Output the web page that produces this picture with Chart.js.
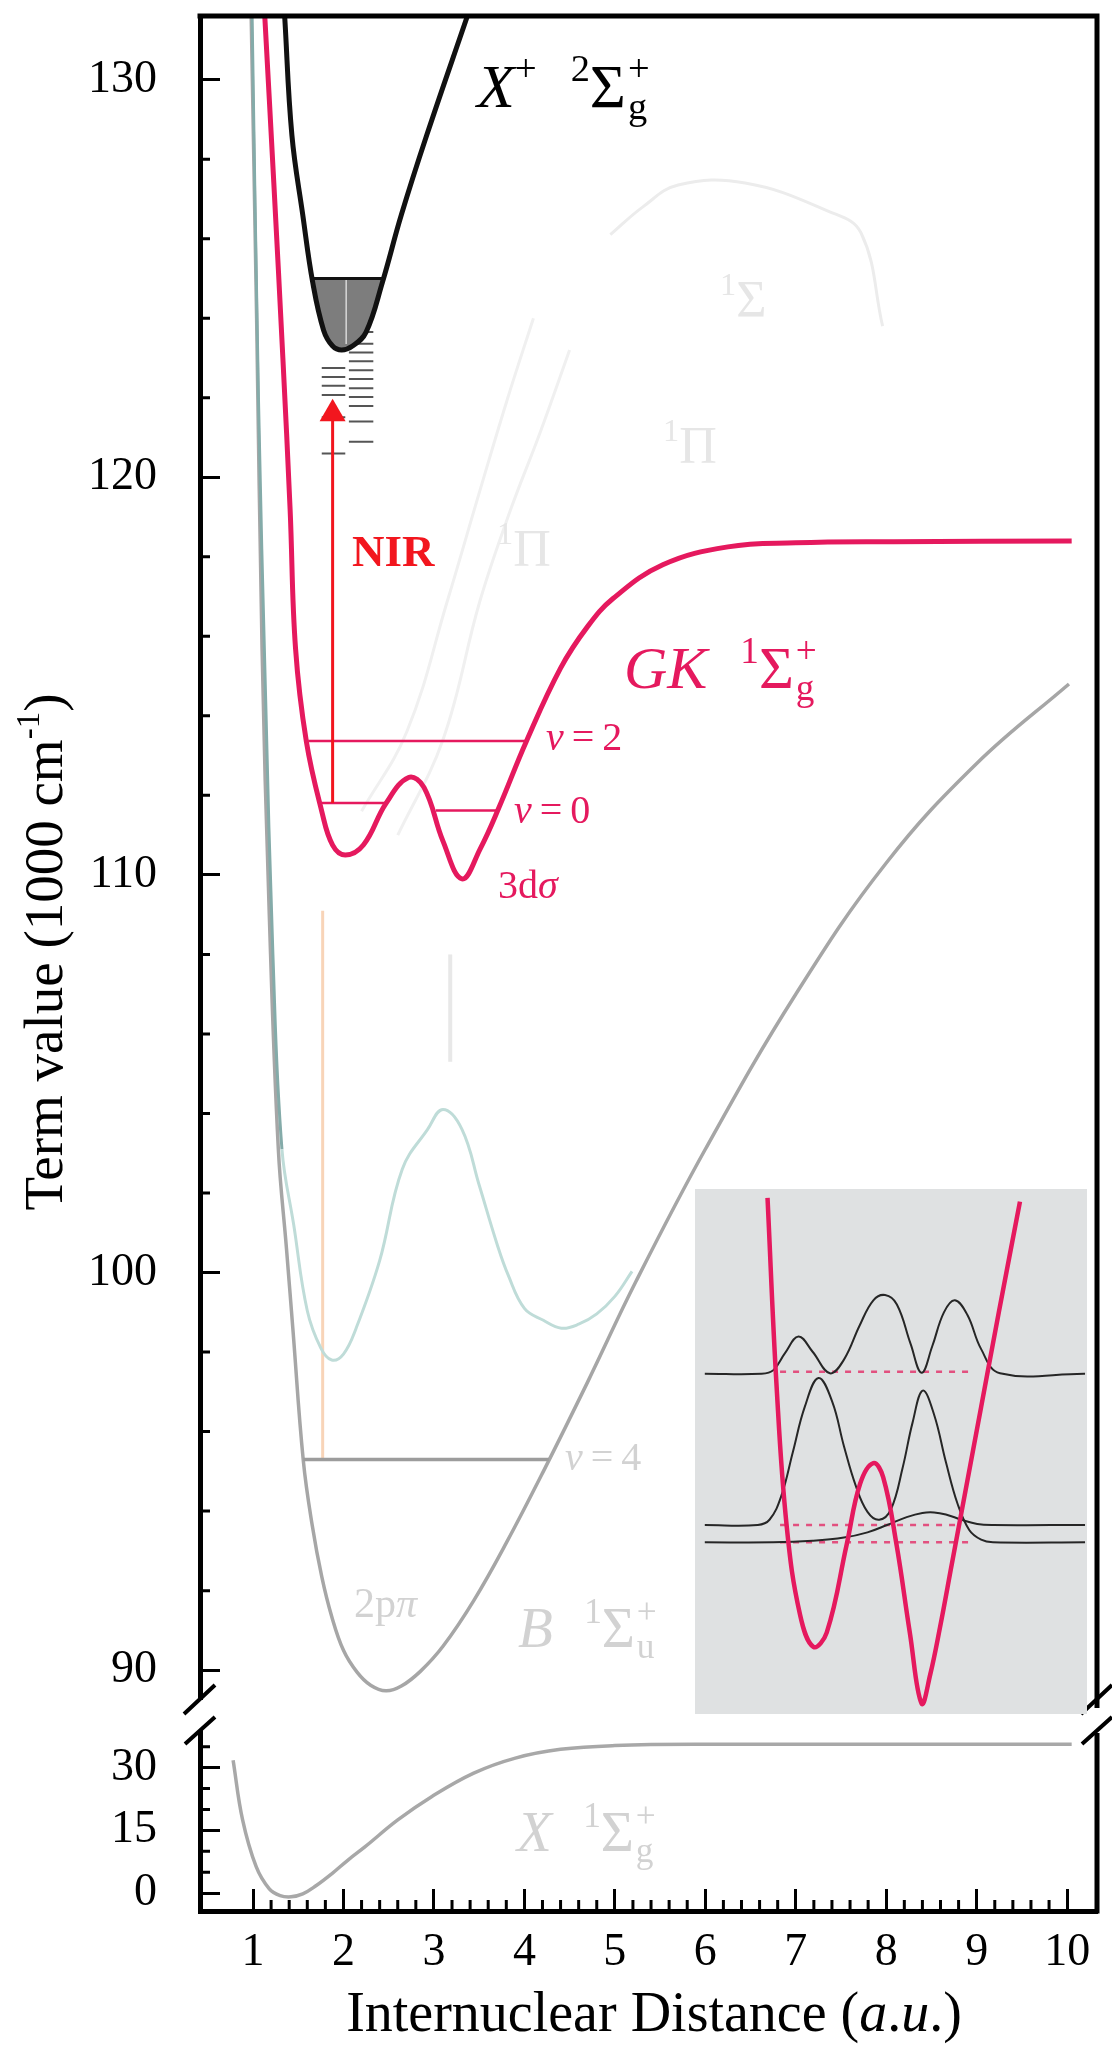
<!DOCTYPE html>
<html lang="en">
<head>
  <meta charset="UTF-8" />
  <title>H2 potential energy curves</title>
  <style>
    body { margin: 0; background: #fff; }
    #wrap {
      position: relative;
      width: 1112px;
      height: 2049px;
      font-family: 'Liberation Serif', 'Times New Roman', serif;
      overflow: hidden;
    }
    #main { position: absolute; left: 0; top: 0; }
    #inset { position: absolute; left: 695px; top: 1189px; background: #dfe1e2; }
    .lbl { position: absolute; line-height: 1; white-space: nowrap; }
    .lbl sup { font-size: 0.62em; vertical-align: 0.68em; line-height: 0; }
    .lbl .gap { margin-left: 0.3em; }
    .ss { display: inline-block; position: relative; width: 0.5em; height: 0.8em; }
    .ss span { position: absolute; left: 0.05em; font-size: 0.62em; line-height: 1; }
    .ss .up { top: -0.22em; }
    .ss .dn { top: 0.78em; }
    .pink { color: #e5195e; }
    .faint { color: #d2d2d2; }
    .ghost { color: #e6e6e6; }
    #ytitle {
      position: absolute; left: -256px; top: 925px; width: 600px; height: 54px;
      font-size: 55px; line-height: 54px; text-align: center;
      transform: rotate(-90deg); transform-origin: 50% 50%;
    }
    #ytitle sup { font-size: 0.6em; vertical-align: 0.7em; line-height: 0; }
    #xtitle {
      position: absolute; left: 254px; top: 1984px; width: 800px;
      font-size: 56px; line-height: 1; text-align: center;
    }
  </style>
</head>
<body>
  <div id="wrap">
    <canvas id="main" width="1112" height="2049"></canvas>
    <canvas id="inset" width="392" height="525"></canvas>

    <div class="lbl" style="left:477px; top:55px; font-size:62px;"><i>X</i><sup>+</sup><span class="gap"></span>&nbsp;<sup>2</sup>Σ<span class="ss"><span class="up">+</span><span class="dn">g</span></span></div>
    <div class="lbl pink" style="left:624px; top:638px; font-size:60px;"><i>GK</i><span class="gap"></span>&nbsp;<sup>1</sup>Σ<span class="ss"><span class="up">+</span><span class="dn">g</span></span></div>
    <div class="lbl" style="left:352px; top:529px; font-size:45px; color:#f2161e; font-weight:bold;">NIR</div>
    <div class="lbl pink" style="left:546px; top:717px; font-size:40px;"><i>ν</i>&thinsp;=&thinsp;2</div>
    <div class="lbl pink" style="left:514px; top:790px; font-size:40px;"><i>ν</i>&thinsp;=&thinsp;0</div>
    <div class="lbl pink" style="left:498px; top:865px; font-size:40px;">3d<i>σ</i></div>

    <div class="lbl faint" style="left:565px; top:1437px; font-size:40px;"><i>ν</i>&thinsp;=&thinsp;4</div>
    <div class="lbl faint" style="left:354px; top:1582px; font-size:42px;">2p<i>π</i></div>
    <div class="lbl faint" style="left:518px; top:1599px; font-size:57px;"><i>B</i><span class="gap"></span>&nbsp;<sup>1</sup>Σ<span class="ss"><span class="up">+</span><span class="dn">u</span></span></div>
    <div class="lbl faint" style="left:517px; top:1803px; font-size:57px;"><i>X</i><span class="gap"></span>&nbsp;<sup>1</sup>Σ<span class="ss"><span class="up">+</span><span class="dn">g</span></span></div>
    <div class="lbl ghost" style="left:720px; top:274px; font-size:52px;"><sup>1</sup>Σ</div>
    <div class="lbl ghost" style="left:663px; top:420px; font-size:52px;"><sup>1</sup>Π</div>
    <div class="lbl ghost" style="left:497px; top:523px; font-size:52px;"><sup>1</sup>Π</div>

    <div id="ytitle">Term value (1000 cm<sup>-1</sup>)</div>
    <div id="xtitle">Internuclear Distance (<i>a</i>.<i>u</i>.)</div>
  </div>

  <script src="https://cdn.jsdelivr.net/npm/chart.js"></script>
  <script>
    // axes
    const xRange = [0.414, 10.33];
    const yUpperRange = [89.25, 131.6];
    const yLowerRange = [-4.3, 46.2];
    const xTicks = [1, 2, 3, 4, 5, 6, 7, 8, 9, 10];
    const yUpperTicks = [90, 100, 110, 120, 130];
    const yLowerTicks = [0, 15, 30];
    const yLowerMinor = [5, 10, 20, 25, 35];

    // GK 1Σg+ double well (pink)
    const gkX = [1.13, 1.23, 1.33, 1.41, 1.47, 1.59, 1.76, 1.88, 2.02, 2.22, 2.47, 2.72, 2.89, 3.10, 3.31, 3.51, 3.72, 4.02, 4.40, 4.70, 4.98, 5.53, 6.25, 7.00, 8.08, 10.05];
    const gkY = [131.6, 127.4, 123.0, 119.2, 115.7, 113.35, 111.6, 110.75, 110.5, 110.75, 111.8, 112.45, 112.2, 110.85, 109.9, 110.65, 111.7, 113.35, 115.2, 116.25, 116.95, 117.8, 118.25, 118.35, 118.38, 118.4];
    // vibrational levels in GK: [from, to, energy]
    const gkLevels = [[1.61, 4.02, 113.37], [1.73, 2.47, 111.81], [3.02, 3.72, 111.62]];

    // X+ 2Σg+ ion (black)
    const ionX = [1.35, 1.43, 1.55, 1.66, 1.78, 1.88, 1.98, 2.10, 2.25, 2.43, 2.64, 2.92, 3.37];
    const ionY = [131.6, 128.6, 126.6, 124.9, 123.7, 123.3, 123.2, 123.3, 123.65, 124.9, 126.6, 128.6, 131.6];
    const ionWellTop = 125.0;
    const ionDashLeftX = [1.76, 2.02];
    const ionDashLeft = [122.75, 122.52, 122.30, 122.07, 121.51, 120.60];
    const ionDashRightX = [2.06, 2.33];
    const ionDashRight = [123.65, 123.36, 123.14, 122.92, 122.69, 122.47, 122.24, 122.02, 121.79, 121.40, 120.89];

    // NIR transition
    const nirX = 1.88;
    const nirFrom = 111.81;
    const nirTo = 121.6;

    // B 1Σu+ (grey)
    const bX = [0.98, 1.04, 1.10, 1.18, 1.28, 1.37, 1.44, 1.556, 1.654, 1.76, 1.87, 2.00, 2.15, 2.30, 2.47, 2.64, 2.85, 3.10, 3.44, 3.80, 4.21, 4.70, 5.23, 6.0, 7.0, 8.0, 9.0, 10.02];
    const bY = [131.6, 124.0, 115.7, 109.0, 103.1, 100.6, 98.6, 95.27, 93.65, 92.35, 91.35, 90.5, 89.95, 89.62, 89.48, 89.6, 89.97, 90.6, 91.75, 93.2, 95.0, 97.25, 99.76, 103.1, 107.0, 110.3, 112.8, 114.8];
    const bLevel = [1.556, 4.27, 95.3];

    // EF 1Σg+ (teal)
    const efX = [0.99, 1.06, 1.14, 1.22, 1.32, 1.45, 1.60, 1.75, 1.87, 2.00, 2.14, 2.40, 2.65, 2.93, 3.10, 3.31, 3.50, 3.70, 3.82, 4.00, 4.21, 4.41, 4.60, 4.80, 5.00, 5.19];
    const efY = [131.6, 122.0, 114.4, 108.0, 103.1, 101.2, 99.04, 98.1, 97.8, 97.95, 98.6, 100.3, 102.6, 103.6, 104.1, 103.6, 102.2, 100.7, 99.94, 99.1, 98.8, 98.6, 98.7, 98.96, 99.4, 100.03];

    // faint states in the background
    const sigArcX = [4.95, 5.31, 5.70, 6.44, 7.35, 7.72, 7.96];
    const sigArcY = [126.1, 126.8, 127.35, 127.4, 126.7, 126.15, 123.8];
    const pi1X = [2.2, 2.7, 3.15, 3.5, 3.81, 4.1];
    const pi1Y = [111.6, 113.6, 116.9, 119.6, 121.95, 124.0];
    const pi2X = [2.6, 3.1, 3.51, 3.85, 4.17, 4.5];
    const pi2Y = [111.0, 113.4, 116.9, 119.2, 121.1, 123.2];
    const uvLine = [1.77, 95.3, 109.1];
    const greyMark = [3.18, 105.3, 108.0];

    // X 1Σg+ ground state (lower panel)
    const gsX = [0.78, 0.885, 1.035, 1.18, 1.30, 1.42, 1.55, 1.70, 1.87, 2.05, 2.24, 2.60, 2.97, 3.44, 3.9, 4.4, 5.0, 6.0, 10.05];
    const gsY = [31.8, 17.5, 6.3, 1.0, -0.6, -0.9, -0.2, 1.8, 4.6, 7.9, 11.1, 17.5, 23.0, 28.7, 32.3, 34.4, 35.3, 35.6, 35.6];

    // inset: double well and wavefunctions (relative units 0-100)
    const inWellX = [18.5, 20.8, 23.4, 26.8, 30.2, 33.6, 38.7, 42.1, 45.5, 48.0, 51.4, 54.8, 57.8, 60.0, 62.5, 65.5, 69.0, 73.0, 77.5, 82.9];
    const inWellY = [98.3, 62.6, 35.7, 18.9, 12.8, 15.5, 32.3, 43.8, 47.8, 45.1, 32.3, 15.5, 2.0, 7.5, 16.5, 28.5, 42.5, 58.5, 76.5, 97.6];
    const psi1X = [2.5, 17, 20, 23, 26.4, 30, 34.4, 38, 42, 45.5, 48.5, 51.5, 55, 57.8, 60.5, 63.5, 66.3, 69.5, 73, 77.8, 99.5];
    const psi1Y = [64.8, 64.8, 65.5, 68.8, 71.9, 69.0, 64.9, 67.5, 74.0, 78.8, 79.8, 78.0, 70.5, 65.0, 70.0, 76.5, 78.8, 76.0, 69.5, 64.9, 64.8];
    const psi2X = [2.5, 16, 19, 22, 25, 28, 31.5, 35, 38, 41, 44, 47, 50, 53, 55.5, 58.1, 61, 64, 67, 70, 73, 76, 99.5];
    const psi2Y = [36.0, 36.0, 37.0, 41.5, 50.0, 58.5, 64.0, 59.5, 51.0, 43.5, 38.5, 37.0, 39.0, 47.0, 55.5, 61.6, 57.0, 48.0, 40.0, 35.0, 33.2, 32.7, 32.7];
    const psi3X = [2.5, 20, 30, 38, 44, 49, 54, 58, 61, 64, 68, 72, 76, 99.5];
    const psi3Y = [32.7, 32.7, 33.0, 33.6, 34.6, 36.0, 37.5, 38.3, 38.4, 38.0, 37.0, 36.2, 36.0, 36.0];
    const inLevels = [[21.7, 71.0, 65.2], [21.7, 66.8, 36.0], [21.7, 71.0, 32.7]];

    const PINK = '#e5195e';
    const RED = '#f2161e';

    function pts(xs, ys) {
      return xs.map((x, i) => ({ x: x, y: ys[i] }));
    }
    function hline(x0, x1, y) {
      return [{ x: x0, y: y }, { x: x1, y: y }];
    }
    function vline(x, y0, y1) {
      return [{ x: x, y: y0 }, { x: x, y: y1 }];
    }
    function dashes(xs, levels) {
      const out = [];
      levels.forEach((y) => {
        out.push({ x: xs[0], y: y }, { x: xs[1], y: y }, { x: xs[1], y: null });
      });
      return out;
    }
    function curve(data, color, width, extra) {
      return Object.assign({
        data: data,
        borderColor: color,
        borderWidth: width,
        pointRadius: 0,
        fill: false,
        tension: 0.4,
        yAxisID: 'y',
      }, extra || {});
    }
    function straight(data, color, width, extra) {
      return curve(data, color, width, Object.assign({ tension: 0 }, extra || {}));
    }

    const ionWell = pts(ionX, ionY).filter((p) => p.y <= ionWellTop);
    const ionWellMin = ionWell.reduce((a, b) => (b.y < a.y ? b : a));

    const xMinor = [];
    for (let i = 6; i < 50; i++) {
      if (i % 5) xMinor.push(i / 5);
    }
    const yUpperMinor = [];
    for (let v = 92; v < 130; v += 2) {
      if (v % 10) yUpperMinor.push(v);
    }

    Chart.defaults.font.family = "'Liberation Serif', 'Times New Roman', serif";
    Chart.defaults.color = '#000';

    const datasets = [
      straight(vline(nirX, nirFrom, nirTo), RED, 3, {
        pointRadius: [0, 15], pointStyle: 'triangle',
        pointBackgroundColor: RED, pointBorderColor: RED, pointBorderWidth: 0,
      }),
      curve(pts(gkX, gkY), PINK, 5),
      ...gkLevels.map((l) => straight(hline(l[0], l[1], l[2]), PINK, 2.5)),
      curve(pts(ionX, ionY), '#111', 5),
      straight(hline(ionWell[0].x, ionWell[ionWell.length - 1].x, ionWellTop), '#111', 3),
      straight(vline(ionWellMin.x + 0.05, ionWellMin.y + 0.15, ionWellTop), '#d8d8d8', 1.5),
      curve(ionWell, 'rgba(0,0,0,0)', 0, { fill: { value: ionWellTop }, backgroundColor: '#7d7d7d' }),
      straight(dashes(ionDashLeftX, ionDashLeft), '#555', 2),
      straight(dashes(ionDashRightX, ionDashRight), '#555', 2),
      curve(pts(efX, efY), '#bfdcd8', 3, {
        segment: { borderColor: (c) => (c.p0.parsed.x < 1.3 ? '#84aba9' : undefined) },
      }),
      straight(hline(bLevel[0], bLevel[1], bLevel[2]), '#9c9c9c', 3.5),
      curve(pts(bX, bY), '#a6a6a6', 3.5),
      straight(vline(uvLine[0], uvLine[1], uvLine[2]), '#f8d4b8', 3),
      straight(vline(greyMark[0], greyMark[1], greyMark[2]), '#e8e8e8', 4),
      curve(pts(sigArcX, sigArcY), '#ececec', 3),
      curve(pts(pi1X, pi1Y), '#f0f0f0', 3),
      curve(pts(pi2X, pi2Y), '#f0f0f0', 3),
      curve(pts(gsX, gsY), '#a8a8a8', 3.5, { yAxisID: 'yLow' }),
    ];

    function setTicks(values) {
      return (scale) => {
        scale.ticks = values.map((v) => ({ value: v }));
      };
    }

    const yAxisBase = {
      type: 'linear',
      position: 'left',
      stack: 'panels',
      border: { width: 5, color: '#000' },
      grid: { drawOnChartArea: false, tickLength: -20, tickWidth: 3, tickColor: '#000' },
      ticks: { padding: 63, font: { size: 46 }, autoSkip: false },
      afterFit: (scale) => {
        scale.width = 200;
        scale.paddingTop = 0;
        scale.paddingBottom = 0;
      },
    };

    // frame, minor ticks and axis break marks
    const framePlugin = {
      id: 'frame',
      afterDraw(chart) {
        const { ctx, chartArea: a, scales } = chart;
        const gapTop = scales.yLow.top;
        const gapBottom = gapTop + 30;
        ctx.save();
        ctx.strokeStyle = '#000';
        ctx.lineCap = 'butt';

        ctx.lineWidth = 3;
        ctx.beginPath();
        xMinor.forEach((v) => {
          const px = scales.x.getPixelForValue(v);
          ctx.moveTo(px, a.bottom);
          ctx.lineTo(px, a.bottom - 11);
        });
        yUpperMinor.forEach((v) => {
          const py = scales.y.getPixelForValue(v);
          ctx.moveTo(a.left, py);
          ctx.lineTo(a.left + 10, py);
        });
        yLowerMinor.forEach((v) => {
          const py = scales.yLow.getPixelForValue(v);
          ctx.moveTo(a.left, py);
          ctx.lineTo(a.left + 10, py);
        });
        ctx.stroke();

        ctx.fillStyle = '#fff';
        ctx.fillRect(a.left - 6, gapTop, 12, gapBottom - gapTop);

        ctx.lineWidth = 5;
        ctx.beginPath();
        ctx.moveTo(a.left - 2.5, a.top);
        ctx.lineTo(a.right + 2.5, a.top);
        ctx.moveTo(a.right, a.top);
        ctx.lineTo(a.right, gapTop + 8);
        ctx.moveTo(a.right, gapBottom + 3);
        ctx.lineTo(a.right, a.bottom + 2.5);
        ctx.stroke();

        ctx.lineWidth = 4;
        ctx.beginPath();
        [a.left, a.right].forEach((bx) => {
          ctx.moveTo(bx - 16, gapTop + 14);
          ctx.lineTo(bx + 15, gapTop - 15);
          ctx.moveTo(bx - 15, gapBottom + 14);
          ctx.lineTo(bx + 15, gapBottom - 13);
        });
        ctx.stroke();
        ctx.restore();
      },
    };

    new Chart(document.getElementById('main'), {
      type: 'line',
      data: { datasets: datasets },
      options: {
        responsive: false,
        animation: false,
        devicePixelRatio: 1,
        layout: { padding: { top: 16, right: 7, left: 0, bottom: 0 } },
        plugins: { legend: { display: false }, tooltip: { enabled: false } },
        scales: {
          x: {
            type: 'linear',
            min: xRange[0],
            max: xRange[1],
            border: { width: 5, color: '#000' },
            grid: { drawOnChartArea: false, tickLength: -22, tickWidth: 3, tickColor: '#000' },
            ticks: { padding: 36, font: { size: 46 }, maxRotation: 0, autoSkip: false },
            afterBuildTicks: setTicks(xTicks),
            afterFit: (scale) => {
              scale.height = 138;
              scale.paddingLeft = 0;
              scale.paddingRight = 0;
            },
          },
          y: Object.assign({}, yAxisBase, {
            min: yUpperRange[0],
            max: yUpperRange[1],
            stackWeight: 1684,
            weight: 2,
            afterBuildTicks: setTicks(yUpperTicks),
          }),
          yLow: Object.assign({}, yAxisBase, {
            min: yLowerRange[0],
            max: yLowerRange[1],
            stackWeight: 211,
            weight: 1,
            afterBuildTicks: setTicks(yLowerTicks),
          }),
        },
      },
      plugins: [framePlugin],
    });

    const insetSets = [
      curve(pts(inWellX, inWellY), PINK, 4.5),
      curve(pts(psi1X, psi1Y), '#262626', 2),
      curve(pts(psi2X, psi2Y), '#262626', 2),
      curve(pts(psi3X, psi3Y), '#262626', 2),
      ...inLevels.map((l) => straight(hline(l[0], l[1], l[2]), '#e2507f', 2.5, { borderDash: [6, 7] })),
    ];

    new Chart(document.getElementById('inset'), {
      type: 'line',
      data: { datasets: insetSets },
      options: {
        responsive: false,
        animation: false,
        devicePixelRatio: 1,
        layout: { padding: 0 },
        plugins: { legend: { display: false }, tooltip: { enabled: false } },
        scales: {
          x: { type: 'linear', min: 0, max: 100, display: false },
          y: { type: 'linear', min: 0, max: 100, display: false },
        },
      },
    });
  </script>
</body>
</html>
